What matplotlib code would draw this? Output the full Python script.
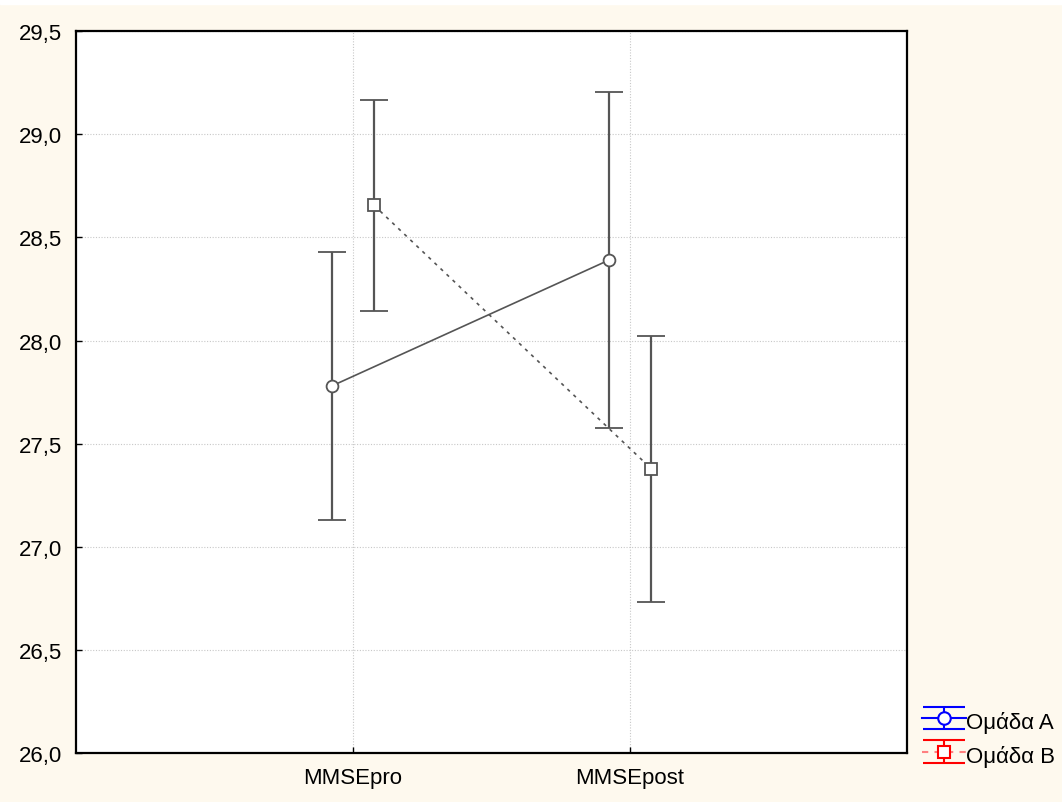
import numpy as np
import matplotlib.pyplot as plt
from matplotlib.patches import Rectangle

categories = ['MMSEpro', 'MMSEpost']
mean_a = [27.78, 28.39]
ci_a = [0.65, 0.815]
mean_b = [28.655, 27.379]
ci_b = [0.51, 0.645]
group_labels = ['Ομάδα A', 'Ομάδα B']
y_ticks = [26.0, 26.5, 27.0, 27.5, 28.0, 28.5, 29.0, 29.5]

plt.rcParams['font.family'] = ['Liberation Sans', 'DejaVu Sans']

bg = '#fef9ee'
gray = '#555555'
offset = 0.076

fig = plt.figure(figsize=(10.62, 8.03), dpi=100, facecolor=bg)
fig.add_artist(Rectangle((0, 1 - 5 / 803), 1, 5 / 803, color='white',
                         transform=fig.transFigure, zorder=0))
ax = fig.add_axes([0.0716, 0.061, 0.7825, 0.899])
ax.set_facecolor('white')

x = np.arange(len(categories))

# groep A - cerc, linie continua
ax.errorbar(x - offset, mean_a, yerr=ci_a, color=gray, lw=1.2, capsize=10,
            capthick=1.3, elinewidth=1.6, marker='o', ms=8.5, mfc='white',
            mec=gray, mew=1.3, zorder=3)
# grupa B - patrat, linie punctata
ax.errorbar(x + offset, mean_b, yerr=ci_b, color=gray, lw=1.2, ls=(0, (2, 3)),
            capsize=10, capthick=1.3, elinewidth=1.6, marker='s', ms=8,
            mfc='white', mec=gray, mew=1.3, zorder=3)

ax.set_xlim(-1, 2)
ax.set_ylim(26.0, 29.5)
ax.set_xticks(x)
ax.set_xticklabels(categories, fontsize=16)
ax.set_yticks(y_ticks)
ax.set_yticklabels([f'{v:.1f}'.replace('.', ',') for v in y_ticks], fontsize=16)
ax.tick_params(direction='in', length=4, width=1, pad=10, colors='black')
ax.grid(True, color='#c8c8c8', ls=(0, (1, 1.5)), lw=0.8)
ax.set_axisbelow(True)
for s in ax.spines.values():
    s.set_linewidth(1.6)
    s.set_color('black')

# legenda cu culori
ha = ax.errorbar([np.nan], [np.nan], yerr=[0.1], color='blue', lw=1.5, capsize=15,
                 capthick=1.5, marker='o', ms=9, mfc='white', mec='blue', mew=1.5)
hb = ax.errorbar([np.nan], [np.nan], yerr=[0.1], color='red', ecolor='red', lw=1.5,
                 ls=(0, (3, 3)), capsize=15, capthick=1.5, marker='s', ms=9,
                 mfc='white', mec='red', mew=1.5)
hb[0].set_color('#ff8080')
hb[0].set_markeredgecolor('red')
fig.legend([ha, hb], group_labels, loc='lower left', bbox_to_anchor=(0.868, 0.042),
           frameon=False, fontsize=16, handlelength=2.0, handleheight=1.5,
           handletextpad=0.0, labelspacing=0.3, borderpad=0.0, borderaxespad=0.0)

fig.savefig('out.png', dpi=100, facecolor=bg)
